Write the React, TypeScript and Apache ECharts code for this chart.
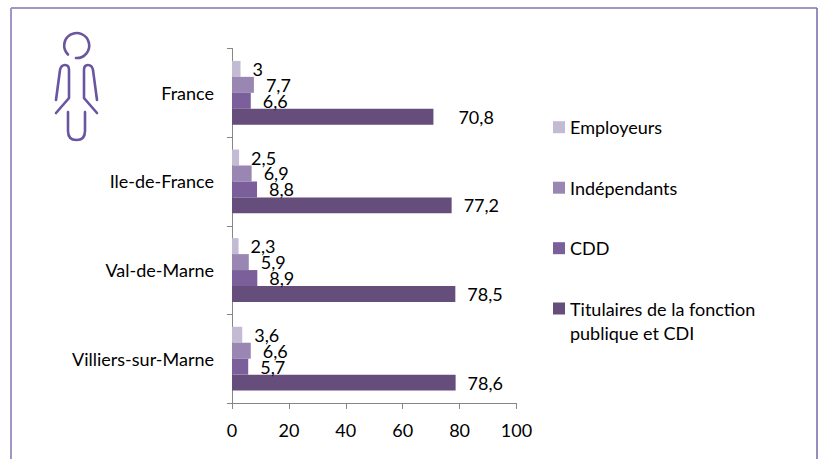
import React, { useEffect, useRef } from "react";
import * as echarts from "echarts";

const categories = ["France", "Ile-de-France", "Val-de-Marne", "Villiers-sur-Marne"];
const employeurs = [3, 2.5, 2.3, 3.6];
const independants = [7.7, 6.9, 5.9, 6.6];
const cdd = [6.6, 8.8, 8.9, 5.7];
const titulaires = [70.8, 77.2, 78.5, 78.6];
const seriesNames = ["Employeurs", "Indépendants", "CDD", "Titulaires de la fonction\npublique et CDI"];
const seriesValues = [employeurs, independants, cdd, titulaires];
const seriesColors = ["#C3BBD3", "#9A86B2", "#7A5F9A", "#654D7C"];
const FONT = "Lato";
const PERSON =
  "M76 58A12.5 12.5 0 1 0 68 54.5M56 100L60 70Q61 65 65 65Q69 65 69 70L69 98L56 113M97 100L93 70Q92 65 88 65Q84 65 84 70L84 98L97 113M68 112L68 131Q68 140 76.5 140Q85 140 85 131L85 112";

const legendBase = {
  orient: "vertical",
  left: 553,
  padding: 0,
  itemWidth: 12,
  itemHeight: 12,
  icon: "rect",
  selectedMode: false,
};

export default function App() {
  const ref = useRef<HTMLDivElement>(null);
  useEffect(() => {
    if (!ref.current) return;
    echarts.graphic.registerShape("person", echarts.graphic.extendPath(PERSON, {}));
    const chart = echarts.init(ref.current, undefined, { renderer: "svg" });
    chart.setOption({
      animation: false,
      backgroundColor: "#fff",
      textStyle: { fontFamily: FONT },
      grid: { left: 232, right: 818 - 516.5, top: 48.5, bottom: 459 - 403, containLabel: false },
      xAxis: {
        type: "value",
        min: 0,
        max: 100,
        interval: 20,
        splitLine: { show: false },
        axisLine: { show: true, lineStyle: { color: "#868686", width: 1 } },
        axisTick: { show: true, length: 6, lineStyle: { color: "#868686" } },
        axisLabel: { color: "#000", fontSize: 18, fontFamily: FONT, margin: 18 },
      },
      yAxis: {
        type: "category",
        inverse: true,
        data: categories,
        axisLine: { show: true, lineStyle: { color: "#868686", width: 1 } },
        axisTick: { show: true, length: 5, lineStyle: { color: "#868686" } },
        axisLabel: { color: "#000", fontSize: 18, fontFamily: FONT, margin: 18 },
      },
      legend: [
        {
          ...legendBase,
          top: 114.2,
          itemGap: 34.5,
          textStyle: { color: "#000", fontSize: 18, fontFamily: FONT, lineHeight: 26 },
          data: seriesNames.slice(0, 3),
        },
        {
          ...legendBase,
          top: 272.5,
          formatter: (name: string) => "\n" + name,
          textStyle: { color: "#000", fontSize: 18, fontFamily: FONT, lineHeight: 24 },
          data: seriesNames.slice(3),
        },
      ],
      series: seriesNames.map((name, i) => ({
        name,
        type: "bar",
        barGap: 0,
        barCategoryGap: "28%",
        data: seriesValues[i].map((value, j) =>
          i === 3 && j === 0 ? { value, label: { distance: 25 } } : value
        ),
        itemStyle: { color: seriesColors[i] },
        label: {
          show: true,
          position: "right",
          distance: 12,
          color: "#000",
          fontSize: 18,
          fontFamily: FONT,
          formatter: (p: any) => String(p.value).replace(".", ","),
        },
      })),
      graphic: [
        {
          type: "line",
          shape: { x1: 11, y1: 8, x2: 817, y2: 8 },
          style: { stroke: "#A396C4", lineWidth: 2 },
          silent: true,
          z: 10,
        },
        {
          type: "line",
          shape: { x1: 11, y1: 8, x2: 11, y2: 459 },
          style: { stroke: "#A396C4", lineWidth: 2 },
          silent: true,
          z: 10,
        },
        {
          type: "line",
          shape: { x1: 817, y1: 8, x2: 817, y2: 459 },
          style: { stroke: "#7568A8", lineWidth: 1.5 },
          silent: true,
          z: 10,
        },
        {
          type: "person",
          style: { fill: "none", stroke: "#6A55A0", lineWidth: 2.6, lineCap: "round" },
          silent: true,
          z: 10,
        },
      ],
    });
    return () => chart.dispose();
  }, []);
  return <div ref={ref} style={{ position: "fixed", left: 0, top: 0, width: 818, height: 459 }} />;
}
